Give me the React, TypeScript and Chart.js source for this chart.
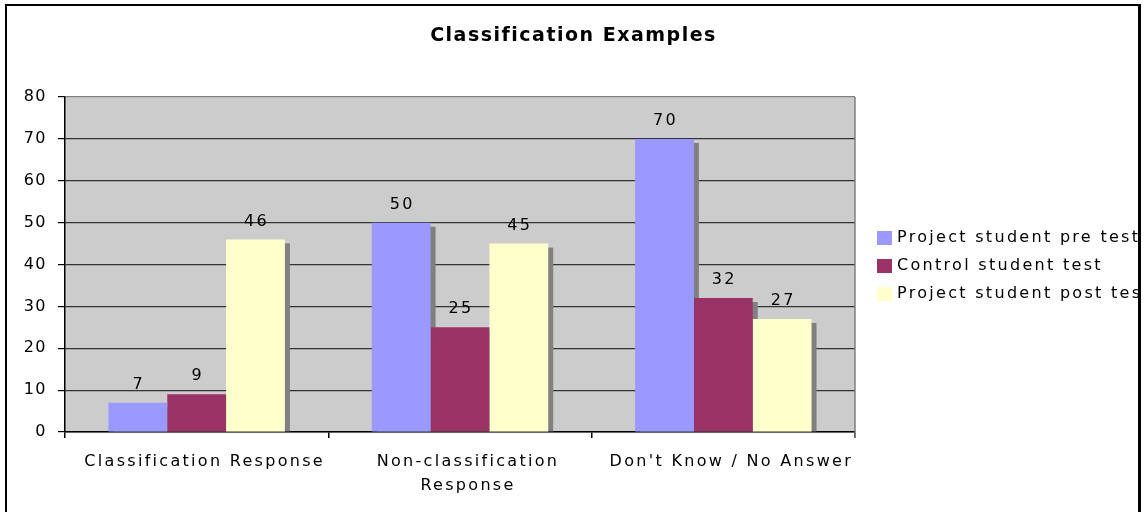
import React, { useEffect, useRef } from "react";
import { Chart, registerables } from "chart.js";

Chart.register(...registerables);

const chartTitle = "Classification Examples";
const categories: (string | string[])[] = [
  "Classification Response",
  ["Non-classification", "Response"],
  "Don't Know / No Answer",
];
const seriesNames = ["Project student pre test", "Control student test", "Project student post test"];
const preTest = [7, 50, 70];
const controlTest = [9, 25, 32];
const postTest = [46, 45, 27];
const seriesColors = ["#9999FF", "#993366", "#FFFFCC"];
const yTicks = [0, 10, 20, 30, 40, 50, 60, 70, 80];

const FONT = "'DejaVu Sans', Verdana, sans-serif";
const SPACING = "2.3px";
const TICK_SPACING = "1.5px";

const spacingPlugin = {
  id: "spacing",
  beforeLayout(chart: any) {
    chart.ctx.letterSpacing = SPACING;
  },
  beforeDraw(chart: any) {
    chart.ctx.letterSpacing = SPACING;
  },
};

const titlePlugin = {
  id: "centerTitle",
  afterDraw(chart: any) {
    const { ctx, width } = chart;
    ctx.save();
    ctx.letterSpacing = "1.5px";
    ctx.font = `bold 19px ${FONT}`;
    ctx.fillStyle = "#000";
    ctx.textAlign = "center";
    ctx.textBaseline = "middle";
    ctx.fillText(chartTitle, width / 2 + 1, 30);
    ctx.restore();
  },
};

const backgroundPlugin = {
  id: "plotBg",
  beforeDraw(chart: any) {
    const { ctx, chartArea } = chart;
    ctx.save();
    ctx.fillStyle = "#CCCCCC";
    ctx.fillRect(chartArea.left, chartArea.top, chartArea.right - chartArea.left, chartArea.bottom - chartArea.top);
    ctx.restore();
  },
  beforeDatasetsDraw(chart: any) {
    const { ctx, chartArea } = chart;
    ctx.save();
    ctx.strokeStyle = "#808080";
    ctx.lineWidth = 1.5;
    ctx.beginPath();
    ctx.moveTo(chartArea.right, chartArea.top);
    ctx.lineTo(chartArea.right, chartArea.bottom + 6);
    ctx.stroke();
    ctx.restore();
  },
};

const shadowPlugin = {
  id: "barShadow",
  beforeDatasetsDraw(chart: any) {
    const { ctx, chartArea } = chart;
    ctx.save();
    ctx.beginPath();
    ctx.rect(chartArea.left, chartArea.top, chartArea.right - chartArea.left, chartArea.bottom - chartArea.top);
    ctx.clip();
    ctx.fillStyle = "#808080";
    chart.data.datasets.forEach((_ds: any, di: number) => {
      const meta = chart.getDatasetMeta(di);
      meta.data.forEach((bar: any) => {
        const w = bar.width;
        const left = bar.x - w / 2 + 5;
        const top = bar.y + 4;
        ctx.fillRect(left, top, w, bar.base - top);
      });
    });
    ctx.restore();
  },
};

const labelPlugin = {
  id: "valueLabels",
  afterDatasetsDraw(chart: any) {
    const { ctx } = chart;
    ctx.save();
    ctx.letterSpacing = SPACING;
    ctx.font = `16px ${FONT}`;
    ctx.fillStyle = "#000";
    ctx.textAlign = "center";
    ctx.textBaseline = "middle";
    chart.data.datasets.forEach((ds: any, di: number) => {
      const meta = chart.getDatasetMeta(di);
      meta.data.forEach((bar: any, i: number) => {
        ctx.fillText(String(ds.data[i]), bar.x + 1, bar.y - 18);
      });
    });
    ctx.restore();
  },
};

const legendPlugin = {
  id: "sideLegend",
  afterDraw(chart: any) {
    const { ctx, chartArea } = chart;
    const x = chartArea.right + 22;
    const midY = (chartArea.top + chartArea.bottom) / 2 + 1.5;
    ctx.save();
    ctx.letterSpacing = SPACING;
    ctx.font = `16px ${FONT}`;
    ctx.textAlign = "left";
    ctx.textBaseline = "middle";
    chart.data.datasets.forEach((ds: any, i: number) => {
      const yc = midY + (i - 1) * 28;
      ctx.fillStyle = ds.backgroundColor;
      ctx.fillRect(x, yc - 7, 15, 14);
      ctx.fillStyle = "#000";
      ctx.fillText(ds.label, x + 20, yc);
    });
    ctx.restore();
  },
};

export default function App() {
  const canvasRef = useRef<HTMLCanvasElement | null>(null);

  useEffect(() => {
    if (!canvasRef.current) return;
    Chart.defaults.font.family = FONT;
    const chart = new Chart(canvasRef.current, {
      type: "bar",
      data: {
        labels: categories,
        datasets: [
          { label: seriesNames[0], data: preTest, backgroundColor: seriesColors[0] },
          { label: seriesNames[1], data: controlTest, backgroundColor: seriesColors[1] },
          { label: seriesNames[2], data: postTest, backgroundColor: seriesColors[2] },
        ],
      },
      options: {
        responsive: false,
        animation: false,
        devicePixelRatio: 1,
        layout: { padding: { left: 0, right: 283, top: 91, bottom: 0 } },
        datasets: {
          bar: { categoryPercentage: 0.67, barPercentage: 1.0, borderWidth: 0 },
        },
        plugins: {
          legend: { display: false },
          tooltip: { enabled: false },
          title: { display: false },
        },
        scales: {
          x: {
            grid: {
              drawOnChartArea: false,
              drawTicks: true,
              tickLength: 6,
              offset: true,
              color: (c: any) => (c.index === 3 ? "#808080" : "#000"),
              lineWidth: 1.5,
            },
            border: { display: true, color: "#000", width: 1.5 },
            ticks: {
              color: "#000",
              font: { size: 16, family: FONT, lineHeight: 1.5 },
              padding: 12,
              labelOffset: 8,
              maxRotation: 0,
              autoSkip: false,
            },
            afterFit: (scale: any) => {
              scale.height = 80;
            },
          },
          y: {
            min: 0,
            max: 80,
            afterBuildTicks: (scale: any) => {
              scale.ticks = yTicks.map((v) => ({ value: v }));
            },
            afterUpdate: (scale: any) => {
              if (!scale.__spaced) {
                const orig = scale.drawLabels.bind(scale);
                scale.drawLabels = (area: any) => {
                  scale.ctx.letterSpacing = TICK_SPACING;
                  orig(area);
                  scale.ctx.letterSpacing = SPACING;
                };
                scale.__spaced = true;
              }
            },
            grid: {
              color: (c: any) => (c.tick && c.tick.value === 80 ? "#808080" : "#333"),
              lineWidth: 1.2,
              drawTicks: true,
              tickLength: 7,
              tickColor: "#000",
            },
            border: { display: true, color: "#000", width: 1.5 },
            ticks: {
              color: "#000",
              font: { size: 16, family: FONT },
              padding: 11,
            },
            afterFit: (scale: any) => {
              scale.width = 58;
            },
          },
        },
      },
      plugins: [spacingPlugin, titlePlugin, backgroundPlugin, shadowPlugin, labelPlugin, legendPlugin],
    } as any);
    return () => chart.destroy();
  }, []);

  return (
    <div
      style={{
        position: "absolute",
        left: 5,
        top: 4,
        width: 1131,
        height: 506,
        border: "2px solid #000",
        borderRightWidth: 3,
        overflow: "hidden",
        background: "#fff",
      }}
    >
      <canvas ref={canvasRef} width={1131} height={506} style={{ display: "block" }} />
    </div>
  );
}
